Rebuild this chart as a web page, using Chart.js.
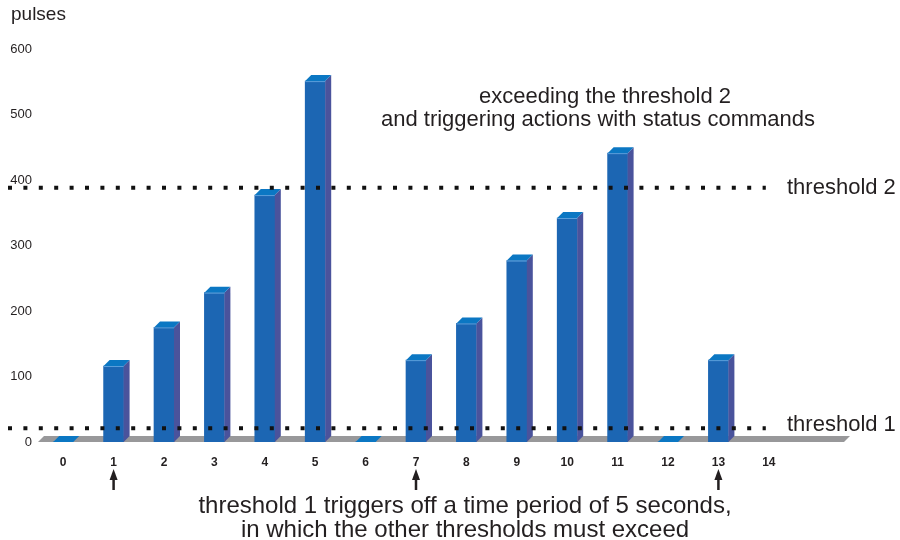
<!DOCTYPE html>
<html>
<head>
  <title>Pulses and thresholds</title>
  <script src="https://cdn.jsdelivr.net/npm/chart.js"></script>
  <style>
    body { margin: 0; background: #fff; }
  </style>
</head>
<body>
  <canvas id="pulseChart" width="900" height="540"></canvas>

  <script>
    // data
    const seconds = ['0', '1', '2', '3', '4', '5', '6', '7', '8', '9', '10', '11', '12', '13', '14'];
    const pulses = [0, 116, 175, 228, 377, 551, 0, 125, 181, 277, 342, 441, 0, 125, null];
    const yTicks = [0, 100, 200, 300, 400, 500, 600];
    const thresholds = [21, 388];
    const thresholdNames = ['threshold 1', 'threshold 2'];
    const triggerSeconds = [1, 7, 13];
    const noteTop = ['exceeding the threshold 2', 'and triggering actions with status commands'];
    const noteBottom = ['threshold 1 triggers off a time period of 5 seconds,', 'in which the other thresholds must exceed'];

    const FONT = '"Liberation Sans", Arial, sans-serif';
    const INK = '#231f20';
    const depth = 6;

    Chart.defaults.font.family = FONT;
    Chart.defaults.color = INK;

    // floor + 3d faces of the bars
    const box3d = {
      id: 'box3d',
      beforeDatasetsDraw(chart) {
        const ctx = chart.ctx, a = chart.chartArea;
        const base = chart.scales.y.getPixelForValue(0);
        ctx.save();
        ctx.fillStyle = '#98989a';
        ctx.beginPath();
        ctx.moveTo(a.left, base);
        ctx.lineTo(a.right + 50, base);
        ctx.lineTo(a.right + 50 + depth, base - depth);
        ctx.lineTo(a.left + depth, base - depth);
        ctx.closePath();
        ctx.fill();
        ctx.restore();
      },
      afterDatasetsDraw(chart) {
        const ctx = chart.ctx;
        ctx.save();
        chart.getDatasetMeta(0).data.forEach((bar, i) => {
          if (pulses[i] === null) return;
          const l = bar.x - bar.width / 2, r = bar.x + bar.width / 2;
          const t = bar.y, b = bar.base;
          // side
          if (b - t > 0) {
            ctx.fillStyle = '#4a539c';
            ctx.beginPath();
            ctx.moveTo(r, t);
            ctx.lineTo(r + depth, t - depth);
            ctx.lineTo(r + depth, b - depth);
            ctx.lineTo(r, b);
            ctx.closePath();
            ctx.fill();
          }
          // top
          ctx.fillStyle = '#0b77c3';
          ctx.beginPath();
          ctx.moveTo(l, t);
          ctx.lineTo(l + depth, t - depth);
          ctx.lineTo(r + depth, t - depth);
          ctx.lineTo(r, t);
          ctx.closePath();
          ctx.fill();
          if (b - t > 0) {
            ctx.strokeStyle = '#5c9fdb';
            ctx.lineWidth = 1;
            ctx.beginPath();
            ctx.moveTo(l, t + 0.5);
            ctx.lineTo(r, t + 0.5);
            ctx.stroke();
          }
        });
        ctx.restore();
      }
    };

    // threshold lines, arrows and the notes
    const notes = {
      id: 'notes',
      afterDraw(chart) {
        const ctx = chart.ctx, x = chart.scales.x, y = chart.scales.y;
        const lineEnd = x.getPixelForValue(14) - 3;
        ctx.save();

        ctx.strokeStyle = '#111';
        ctx.lineWidth = 4;
        ctx.setLineDash([4, 11.4]);
        thresholds.forEach(v => {
          const py = y.getPixelForValue(v);
          ctx.beginPath();
          ctx.moveTo(8, py);
          ctx.lineTo(lineEnd, py);
          ctx.stroke();
        });
        ctx.setLineDash([]);

        ctx.fillStyle = INK;
        ctx.font = '22px ' + FONT;
        ctx.textBaseline = 'middle';
        ctx.textAlign = 'left';
        thresholdNames.forEach((name, i) => {
          ctx.fillText(name, 787, y.getPixelForValue(thresholds[i]) - (i === 0 ? 3 : 0));
        });

        ctx.textAlign = 'center';
        ctx.fillText(noteTop[0], 605, 97);
        ctx.fillText(noteTop[1], 598, 120);
        ctx.font = '24px ' + FONT;
        ctx.fillText(noteBottom[0], 465, 506);
        ctx.fillText(noteBottom[1], 465, 530);

        ctx.textAlign = 'left';
        ctx.font = '19px ' + FONT;
        ctx.fillText('pulses', 11, 15);

        // arrows under the trigger seconds
        ctx.strokeStyle = INK;
        ctx.lineWidth = 2.5;
        triggerSeconds.forEach(s => {
          const px = x.getPixelForValue(s);
          ctx.beginPath();
          ctx.moveTo(px, 477);
          ctx.lineTo(px, 490);
          ctx.stroke();
          ctx.beginPath();
          ctx.moveTo(px, 469);
          ctx.lineTo(px - 4, 480);
          ctx.lineTo(px + 4, 480);
          ctx.closePath();
          ctx.fill();
        });
        ctx.restore();
      }
    };

    new Chart(document.getElementById('pulseChart'), {
      type: 'bar',
      data: {
        labels: seconds,
        datasets: [{
          data: pulses,
          backgroundColor: '#1c66b3',
          barThickness: 20,
          borderWidth: 0
        }]
      },
      options: {
        responsive: false,
        animation: false,
        layout: { padding: { top: 49, right: 106, left: 0, bottom: 0 } },
        plugins: { legend: { display: false }, tooltip: { enabled: false } },
        scales: {
          x: {
            grid: { display: false, drawTicks: false },
            border: { display: false },
            ticks: { font: { size: 12, weight: 'bold' }, color: INK, padding: 13, maxRotation: 0 },
            afterFit(scale) { scale.height = 98; }
          },
          y: {
            min: 0,
            max: 600,
            grid: { display: false, drawTicks: false },
            border: { display: false },
            ticks: { font: { size: 13 }, color: INK, padding: 6 },
            afterBuildTicks(scale) { scale.ticks = yTicks.map(v => ({ value: v })); },
            afterFit(scale) { scale.width = 38; }
          }
        }
      },
      plugins: [box3d, notes]
    });
  </script>
</body>
</html>
